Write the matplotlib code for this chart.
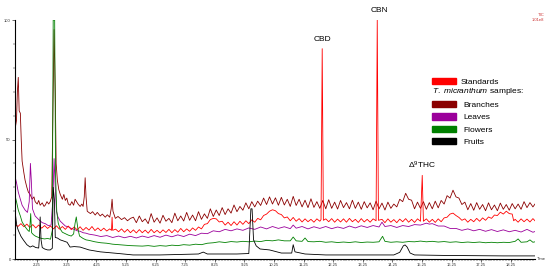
import numpy as np
import matplotlib
matplotlib.use("Agg")
import matplotlib.pyplot as plt
from matplotlib.patches import Patch
from matplotlib.ticker import MultipleLocator

plt.rcParams['font.family'] = ['Liberation Sans', 'DejaVu Sans']
plt.rcParams['mathtext.fontset'] = 'custom'
plt.rcParams['mathtext.rm'] = 'Liberation Sans'
plt.rcParams['mathtext.it'] = 'Liberation Sans:italic'

# (time [min], relative abundance [%])
branches = [(1.50, 0), (1.51, 55), (1.55, 58), (1.58, 70), (1.61, 76), (1.64, 62), (1.68, 61), (1.71, 50),
            (1.74, 41), (1.80, 36), (1.84, 33), (1.90, 30), (1.95, 28), (2.01, 27), (2.08, 25), (2.14, 26),
            (2.18, 24), (2.25, 23), (2.30, 24.5), (2.35, 22.5), (2.42, 23.5), (2.48, 22), (2.52, 22.5),
            (2.58, 24), (2.64, 23), (2.69, 24), (2.74, 26), (2.78, 60), (2.82, 96), (2.86, 70), (2.89, 40),
            (2.93, 33), (2.98, 29), (3.03, 27), (3.10, 25), (3.15, 27), (3.20, 24.5), (3.25, 25.5), (3.30, 23),
            (3.36, 22.5), (3.42, 24), (3.48, 22.5), (3.53, 25), (3.58, 24), (3.63, 23), (3.70, 22), (3.76, 23),
            (3.80, 22), (3.84, 26), (3.87, 34), (3.90, 26), (3.94, 20), (3.97, 19.7), (4.05, 19), (4.12, 19.8),
            (4.21, 18.4), (4.28, 19.5), (4.38, 18), (4.45, 18.8), (4.55, 17.5), (4.62, 18.5), (4.70, 17.5),
            (4.75, 21), (4.78, 25), (4.81, 20), (4.89, 17), (4.98, 17.8), (5.10, 16.5), (5.20, 17.3), (5.30, 16),
            (5.40, 17.0), (5.5, 17.5), (5.6, 15.2), (5.7, 18.0), (5.8, 15.6), (5.9, 16.8), (6.0, 14.8),
            (6.1, 19.0), (6.2, 15.4), (6.3, 17.2), (6.4, 15.0), (6.5, 18.3), (6.6, 15.8), (6.7, 17.0),
            (6.8, 15.2), (6.9, 19.2), (7.0, 16.0), (7.1, 18.0), (7.2, 15.9), (7.3, 19.5), (7.4, 16.2),
            (7.5, 18.4), (7.6, 16.0), (7.7, 19.8), (7.8, 16.6), (7.9, 18.9), (8.0, 17.0), (8.1, 21.0),
            (8.2, 17.8), (8.3, 20.5), (8.4, 18.2), (8.5, 21.5), (8.6, 18.6), (8.7, 21.0), (8.8, 19.2),
            (8.9, 22.6), (9.0, 19.8), (9.1, 22.0), (9.2, 20.4), (9.3, 23.5), (9.4, 21.0), (9.5, 24.0),
            (9.6, 21.8), (9.7, 24.2), (9.8, 22.4), (9.9, 25.5), (10.0, 22.8), (10.1, 26.0), (10.2, 23.0),
            (10.3, 25.6), (10.4, 22.5), (10.5, 25.8), (10.6, 22.6), (10.7, 25.0), (10.8, 22.0), (10.9, 26.2),
            (11.0, 22.4), (11.1, 25.0), (11.2, 21.8), (11.3, 24.6), (11.4, 21.5), (11.5, 25.2), (11.6, 21.6),
            (11.7, 24.0), (11.8, 21.2), (11.9, 24.5), (12.0, 21.0), (12.1, 24.8), (12.2, 21.2), (12.3, 23.8),
            (12.4, 20.9), (12.5, 24.5), (12.6, 21.5), (12.7, 23.6), (12.8, 21.0), (12.9, 24.6), (13.0, 21.2),
            (13.1, 23.8), (13.2, 20.8), (13.3, 24.0), (13.4, 21.4), (13.5, 23.5), (13.6, 20.6), (13.7, 24.2),
            (13.8, 21.0), (13.9, 23.4), (14.0, 20.5), (14.1, 23.8), (14.2, 21.2), (14.3, 23.0), (14.4, 21.8),
            (14.5, 25.0), (14.6, 24.0), (14.7, 27.5), (14.8, 25.0), (14.9, 24.6), (15.0, 21.0), (15.1, 23.8),
            (15.2, 21.2), (15.3, 24.0), (15.4, 20.8), (15.5, 23.6), (15.6, 21.0), (15.7, 24.2), (15.8, 21.4),
            (15.9, 24.5), (16.0, 23.0), (16.1, 26.5), (16.2, 25.5), (16.3, 28.8), (16.4, 26.0), (16.5, 25.5),
            (16.6, 22.8), (16.7, 23.8), (16.8, 20.6), (16.9, 23.2), (17.0, 20.4), (17.1, 23.6), (17.2, 20.8),
            (17.3, 22.8), (17.4, 20.2), (17.5, 23.5), (17.6, 20.6), (17.7, 22.6), (17.8, 20.2), (17.9, 23.4),
            (18.0, 20.8), (18.1, 22.8), (18.2, 20.4), (18.3, 23.2), (18.4, 21.0), (18.5, 23.0), (18.6, 20.8),
            (18.7, 24.0), (18.8, 21.5), (18.9, 23.6), (19.0, 21.8), (19.07, 23.0)]

standards = [(1.50, 0), (1.51, 14.5), (1.6, 13.6), (1.7, 14.8), (1.8, 13.5), (1.9, 14.6), (2.0, 13.2),
             (2.1, 14.4), (2.2, 13.0), (2.3, 14.2), (2.4, 12.9), (2.5, 14.0), (2.6, 12.8), (2.7, 13.8),
             (2.8, 12.6), (2.9, 13.9), (3.0, 12.5), (3.1, 13.6), (3.2, 12.4), (3.3, 13.8), (3.4, 12.3),
             (3.5, 13.4), (3.6, 12.2), (3.7, 13.5), (3.8, 12.0), (3.9, 13.2), (4.0, 12.1), (4.1, 13.6),
             (4.2, 11.9), (4.3, 13.0), (4.4, 11.8), (4.5, 12.9), (4.6, 11.7), (4.7, 12.6), (4.76, 12.0),
             (4.78, 17.5), (4.80, 12.0), (4.9, 12.5), (5.0, 11.4), (5.1, 12.6), (5.2, 11.2), (5.3, 12.4),
             (5.4, 11.0), (5.5, 12.2), (5.6, 10.9), (5.7, 12.3), (5.8, 11.0), (5.9, 12.1), (6.0, 10.8),
             (6.1, 12.4), (6.2, 11.0), (6.3, 12.0), (6.4, 10.9), (6.5, 12.2), (6.6, 11.1), (6.7, 12.4),
             (6.8, 11.0), (6.9, 12.3), (7.0, 11.2), (7.1, 12.8), (7.2, 11.4), (7.3, 12.6), (7.4, 11.6),
             (7.5, 13.0), (7.6, 12.0), (7.7, 13.4), (7.8, 12.6), (7.9, 14.5), (8.0, 14.8), (8.1, 16.5),
             (8.2, 17.0), (8.3, 16.8), (8.4, 15.5), (8.5, 15.8), (8.6, 14.2), (8.7, 15.4), (8.8, 14.0),
             (8.9, 15.6), (9.0, 14.2), (9.1, 15.8), (9.2, 14.5), (9.3, 16.0), (9.4, 14.8), (9.5, 16.4),
             (9.6, 15.4), (9.7, 17.0), (9.8, 16.4), (9.9, 18.2), (10.0, 18.8), (10.1, 20.0), (10.2, 20.6),
             (10.3, 20.2), (10.4, 19.0), (10.5, 18.6), (10.6, 17.2), (10.7, 17.6), (10.8, 16.0), (10.9, 17.4),
             (11.0, 15.8), (11.1, 16.9), (11.2, 15.5), (11.3, 16.8), (11.4, 15.6), (11.5, 16.6), (11.6, 15.4),
             (11.7, 16.8), (11.8, 15.8), (11.84, 16.5), (11.88, 88), (11.92, 16.2), (12.0, 16.8), (12.1, 15.6),
             (12.2, 16.9), (12.3, 15.4), (12.4, 16.7), (12.5, 15.5), (12.6, 16.8), (12.7, 15.4), (12.8, 17.0),
             (12.9, 15.6), (13.0, 16.6), (13.1, 15.3), (13.2, 16.9), (13.3, 15.5), (13.4, 16.6), (13.5, 15.4),
             (13.6, 16.8), (13.7, 16.0), (13.74, 100), (13.78, 16.2), (13.9, 16.6), (14.0, 15.2), (14.1, 16.8),
             (14.2, 15.4), (14.3, 16.5), (14.4, 15.2), (14.5, 16.7), (14.6, 15.6), (14.7, 16.9), (14.8, 15.4),
             (14.9, 16.6), (15.0, 15.3), (15.1, 16.8), (15.2, 15.8), (15.26, 35), (15.3, 15.8), (15.4, 16.8),
             (15.5, 15.4), (15.6, 16.6), (15.7, 15.3), (15.8, 16.8), (15.9, 15.6), (16.0, 17.2), (16.1, 17.5),
             (16.2, 18.8), (16.3, 19.2), (16.4, 18.2), (16.5, 17.4), (16.6, 16.2), (16.7, 16.8), (16.8, 15.4),
             (16.9, 16.6), (17.0, 15.6), (17.1, 17.0), (17.2, 15.8), (17.3, 17.2), (17.4, 16.2), (17.5, 17.6),
             (17.6, 17.0), (17.7, 18.4), (17.8, 18.2), (17.9, 19.6), (18.0, 18.8), (18.1, 20.0), (18.2, 19.0),
             (18.3, 18.8), (18.35, 16.0), (18.4, 16.6), (18.5, 15.4), (18.6, 16.8), (18.7, 15.6), (18.8, 16.7),
             (18.9, 15.5), (19.0, 16.9), (19.07, 16.0)]

leaves = [(1.51, 34), (1.55, 32), (1.61, 28), (1.68, 25), (1.74, 22.5), (1.84, 20.5), (1.92, 19.5), (1.98, 24),
          (2.02, 40), (2.05, 33), (2.09, 21), (2.18, 18), (2.30, 16.5), (2.42, 15.2), (2.52, 14.8), (2.62, 14.0),
          (2.72, 14.2), (2.78, 25), (2.82, 42), (2.86, 30), (2.90, 20), (2.95, 17.6), (3.03, 15.8), (3.1, 15.0),
          (3.2, 13.8), (3.3, 13.5), (3.4, 12.8), (3.5, 12.4), (3.6, 11.8), (3.7, 11.6), (3.8, 11.0), (3.9, 10.8),
          (4.0, 10.4), (4.2, 10.0), (4.4, 9.4), (4.6, 9.8), (4.8, 9.0), (5.0, 9.6), (5.2, 8.9), (5.4, 9.5),
          (5.6, 8.8), (5.8, 9.6), (6.0, 9.0), (6.2, 9.8), (6.4, 9.1), (6.6, 10.0), (6.8, 9.3), (7.0, 10.1),
          (7.2, 9.4), (7.4, 10.4), (7.6, 9.8), (7.8, 10.8), (8.0, 10.6), (8.2, 11.8), (8.4, 11.4), (8.6, 12.4),
          (8.8, 11.8), (9.0, 12.6), (9.2, 12.0), (9.4, 13.0), (9.6, 12.4), (9.8, 13.4), (10.0, 12.6),
          (10.2, 13.6), (10.4, 12.8), (10.6, 13.5), (10.8, 12.7), (10.9, 14.2), (11.0, 12.9), (11.2, 13.6),
          (11.4, 12.6), (11.6, 13.5), (11.8, 12.8), (12.0, 13.6), (12.2, 12.7), (12.4, 13.4), (12.6, 12.8),
          (12.8, 13.8), (13.0, 13.0), (13.2, 13.9), (13.4, 13.2), (13.6, 14.0), (13.8, 13.4), (13.9, 15.4),
          (14.0, 13.6), (14.2, 14.0), (14.4, 13.2), (14.6, 14.0), (14.8, 13.6), (15.0, 14.4), (15.2, 14.2),
          (15.4, 15.0), (15.5, 14.6), (15.6, 14.8), (15.8, 13.8), (16.0, 13.8), (16.2, 12.8), (16.4, 12.8),
          (16.6, 12.0), (16.8, 12.6), (17.0, 11.8), (17.2, 12.4), (17.4, 11.6), (17.6, 12.3), (17.8, 11.5),
          (18.0, 12.2), (18.2, 11.4), (18.4, 12.0), (18.6, 11.3), (18.8, 12.4), (19.0, 11.2), (19.07, 11.5)]

flowers = [(1.51, 26), (1.55, 24), (1.61, 20.5), (1.68, 18), (1.74, 15.5), (1.84, 13.5), (1.92, 12.2),
           (1.98, 11.5), (2.01, 15), (2.03, 19), (2.06, 11), (2.12, 10.2), (2.2, 9.5), (2.3, 9.0), (2.4, 8.6),
           (2.5, 8.4), (2.6, 8.6), (2.7, 8.3), (2.76, 12), (2.79, 100), (2.84, 100), (2.87, 35), (2.91, 20),
           (2.96, 15), (3.03, 12.5), (3.1, 11.2), (3.2, 10.6), (3.3, 10.0), (3.4, 9.6), (3.48, 10.5),
           (3.53, 15), (3.57, 17.6), (3.62, 13), (3.68, 9.6), (3.8, 8.6), (3.9, 8.0), (4.0, 7.8), (4.2, 7.2),
           (4.4, 6.8), (4.6, 6.6), (4.8, 6.2), (5.0, 6.0), (5.2, 5.8), (5.4, 5.6), (5.6, 5.5), (5.8, 5.4),
           (6.0, 5.6), (6.2, 5.3), (6.4, 5.6), (6.6, 5.4), (6.8, 5.8), (7.0, 5.6), (7.2, 6.0), (7.4, 5.8),
           (7.6, 6.2), (7.8, 6.0), (8.0, 6.6), (8.2, 6.8), (8.4, 7.2), (8.6, 6.9), (8.8, 7.3), (9.0, 7.1),
           (9.2, 7.4), (9.4, 7.2), (9.6, 7.5), (9.8, 7.3), (10.0, 7.8), (10.2, 7.6), (10.4, 8.0), (10.6, 7.6),
           (10.8, 7.6), (10.9, 9.2), (11.0, 7.6), (11.2, 7.4), (11.3, 8.8), (11.4, 7.3), (11.6, 7.2),
           (11.8, 7.4), (12.0, 7.0), (12.2, 7.2), (12.4, 6.9), (12.6, 7.1), (12.8, 6.9), (13.0, 7.2),
           (13.2, 6.9), (13.4, 7.1), (13.6, 7.0), (13.8, 7.2), (13.92, 9.5), (14.0, 7.4), (14.2, 7.0),
           (14.4, 7.2), (14.6, 7.0), (14.8, 7.3), (15.0, 7.2), (15.2, 7.5), (15.4, 7.2), (15.6, 7.4),
           (15.8, 7.1), (16.0, 7.3), (16.2, 7.0), (16.4, 7.2), (16.6, 6.9), (16.8, 7.1), (17.0, 6.9),
           (17.2, 7.1), (17.4, 6.8), (17.6, 7.0), (17.8, 6.8), (18.0, 7.0), (18.2, 6.9), (18.4, 7.4),
           (18.5, 8.4), (18.6, 7.0), (18.8, 7.2), (18.9, 8.0), (19.0, 7.0), (19.07, 7.2)]

fruits = [(1.51, 19), (1.56, 14), (1.61, 12), (1.70, 9.5), (1.78, 8), (1.9, 6), (2.01, 5), (2.1, 5.5),
          (2.2, 4.8), (2.3, 4.6), (2.33, 10), (2.35, 17.6), (2.38, 8), (2.42, 4.8), (2.5, 4.2), (2.6, 3.8),
          (2.69, 3.8), (2.76, 4.5), (2.79, 30), (2.83, 25), (2.86, 9), (2.93, 8.8), (3.03, 8), (3.15, 7.5),
          (3.26, 7), (3.36, 5), (3.5, 5.2), (3.7, 5), (4.0, 3.8), (4.38, 3), (5.0, 2.3), (5.49, 1.7),
          (6.4, 1.7), (7.7, 2.1), (7.86, 2.9), (8.0, 2.1), (9.0, 2.1), (9.4, 2.3), (9.47, 21), (9.51, 21),
          (9.56, 8), (9.65, 5.5), (9.78, 4.2), (10.1, 3.8), (10.5, 2.5), (10.85, 2.5), (10.9, 6), (10.96, 3),
          (11.3, 2.1), (12.0, 1.7), (13.0, 1.7), (14.3, 1.7), (14.5, 2.8), (14.62, 5.5), (14.68, 5.9),
          (14.75, 5), (14.85, 2.5), (15.0, 1.7), (16.0, 1.5), (17.0, 1.4), (18.0, 1.3), (19.07, 1.3)]

series = [("Branches", branches, "#8B0000"),
          ("Leaves", leaves, "#9B009B"),
          ("Standards", standards, "#FF0000"),
          ("Flowers", flowers, "#008000"),
          ("Fruits", fruits, "#000000")]

fig = plt.figure(figsize=(5.5, 2.7), dpi=100)
ax = fig.add_axes([0.0273, 0.0407, 0.9454, 0.8852])

for name, pts, col in series:
    t, y = zip(*pts)
    ax.plot(t, y, color=col, lw=0.6)

ax.set_xlim(1.5, 19.07)
ax.set_ylim(0, 100)
for s in ['top', 'right']:
    ax.spines[s].set_visible(False)
ax.spines['left'].set_linewidth(0.8)
ax.spines['bottom'].set_linewidth(0.8)

xt = np.arange(2.25, 19.0, 1.0)
ax.set_xticks(xt)
ax.set_xticklabels([f"{v:.2f}" for v in xt], fontsize=3, color='#333333')
ax.xaxis.set_minor_locator(MultipleLocator(0.1))
ax.set_yticks([0, 50, 100])
ax.set_yticklabels(["0", "50", "100"], fontsize=3, color='#333333')
ax.yaxis.set_minor_locator(MultipleLocator(10))
ax.tick_params(axis='both', which='major', length=2, width=0.4, pad=1)
ax.tick_params(axis='both', which='minor', length=1.2, width=0.3)

ax.text(1.004, 0.0, "Time", transform=ax.transAxes, fontsize=3, va='center', ha='left', color='#333333')
fig.text(0.99, 0.935, "TIC\n1.01e8", fontsize=3, color='#cc3333', ha='right', va='center',
         linespacing=1.2)

ax.text(11.88, 90.5, "CBD", fontsize=6, ha='center', va='bottom')
ax.text(13.82, 102.5, "CBN", fontsize=6, ha='center', va='bottom', clip_on=False)
ax.text(15.24, 37, "Δ$^9$THC", fontsize=6, ha='center', va='bottom')

leg1 = ax.legend([Patch(color='#FF0000')], ["Standards"], loc='upper left',
                 bbox_to_anchor=(428 / 550, 1 - 74 / 270), bbox_transform=fig.transFigure,
                 frameon=False, fontsize=6, borderpad=0, handlelength=2.9, handleheight=0.75,
                 handletextpad=0.5)
ax.add_artist(leg1)
handles = [Patch(color=c) for n, p, c in series if n != "Standards"]
names = [n for n, p, c in series if n != "Standards"]
leg2 = ax.legend(handles, names, loc='upper left',
                 bbox_to_anchor=(428 / 550, 1 - 82 / 270), bbox_transform=fig.transFigure,
                 frameon=False, fontsize=6, borderpad=0, handlelength=2.9, handleheight=0.75,
                 handletextpad=0.9, labelspacing=0.5,
                 title=r"$T.\ micranthum$ samples:", title_fontsize=6, alignment='left')

fig.savefig("out.png", dpi=100)
